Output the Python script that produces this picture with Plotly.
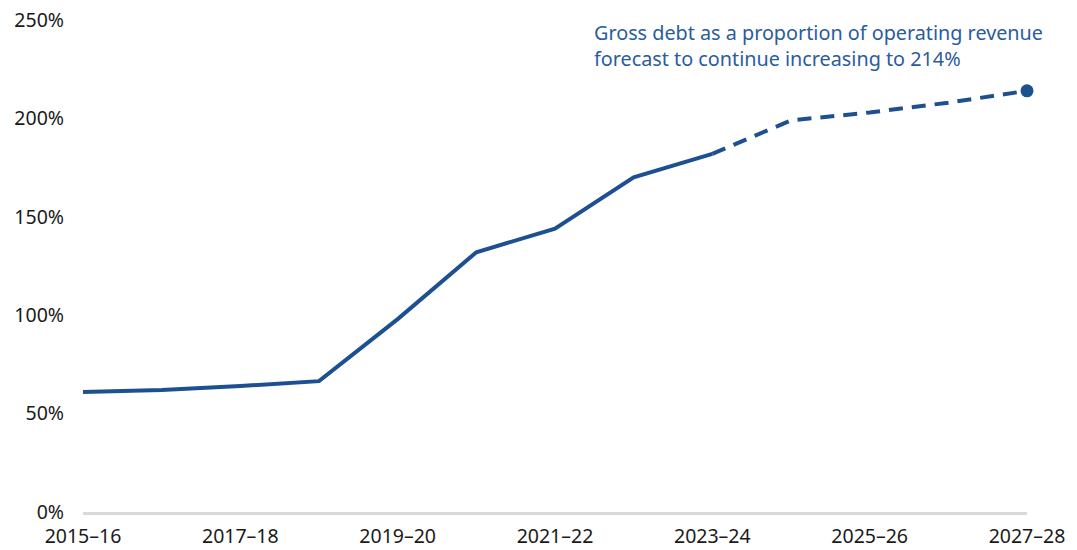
import plotly.graph_objects as go

years = ["2015–16", "2016–17", "2017–18", "2018–19", "2019–20", "2020–21", "2021–22",
         "2022–23", "2023–24", "2024–25", "2025–26", "2026–27", "2027–28"]
actual = [61, 62, 64, 66.5, 98, 132, 144, 170, 182]
forecast = [182, 199, 203, 208, 214]
tick_labels = ["2015–16", "2017–18", "2019–20", "2021–22", "2023–24", "2025–26", "2027–28"]
y_ticks = [0, 50, 100, 150, 200, 250]
note = "Gross debt as a proportion of operating revenue<br>forecast to continue increasing to 214%"

blue = "#1d5091"
font = "Noto Sans, Open Sans, sans-serif"

fig = go.Figure()
fig.add_trace(go.Scatter(x=years[:len(actual)], y=actual, mode="lines",
                         line=dict(color=blue, width=4), hoverinfo="skip", cliponaxis=False))
fx = years[len(actual) - 1:]
fig.add_trace(go.Scatter(x=fx, y=forecast, mode="lines",
                         line=dict(color=blue, width=4, dash="14px,9px"), hoverinfo="skip",
                         cliponaxis=False))
fig.add_trace(go.Scatter(x=[fx[-1]], y=[forecast[-1]], mode="markers",
                         marker=dict(color=blue, size=13), hoverinfo="skip", cliponaxis=False))

fig.add_annotation(x=(592 - 83) / 944, y=1, xref="paper", yref="paper", text=note,
                   showarrow=False, xanchor="left", yanchor="top", yshift=3, align="left",
                   font=dict(family=font, size=19.8, color="#2a5c9e"))

fig.update_layout(
    width=1077, height=550, showlegend=False,
    paper_bgcolor="white", plot_bgcolor="white",
    margin=dict(l=83, r=50, t=20, b=38, pad=0),
    font=dict(family=font, size=19.5, color="#1a1a1a"),
)
fig.update_xaxes(type="category", categoryorder="array", categoryarray=years,
                 tickvals=tick_labels, ticktext=tick_labels, showgrid=False,
                 showline=True, linecolor="#d9d9d9", linewidth=3, ticks="",
                 range=[0, len(years) - 1], zeroline=False, ticklabelstandoff=5,
                 automargin=False, ticklabeloverflow="allow")
fig.update_yaxes(range=[0, 250], tickvals=y_ticks, ticktext=[f"{v}%" for v in y_ticks],
                 showgrid=False, zeroline=False, showline=False, ticks="",
                 ticklabelstandoff=18, automargin=False, ticklabeloverflow="allow")

# remove the browser's default 8px page margin so the figure fills the window exactly
fig.write_html("out.html", config={"displayModeBar": False},
               post_script="document.body.style.margin='0';document.body.style.overflow='hidden';")
